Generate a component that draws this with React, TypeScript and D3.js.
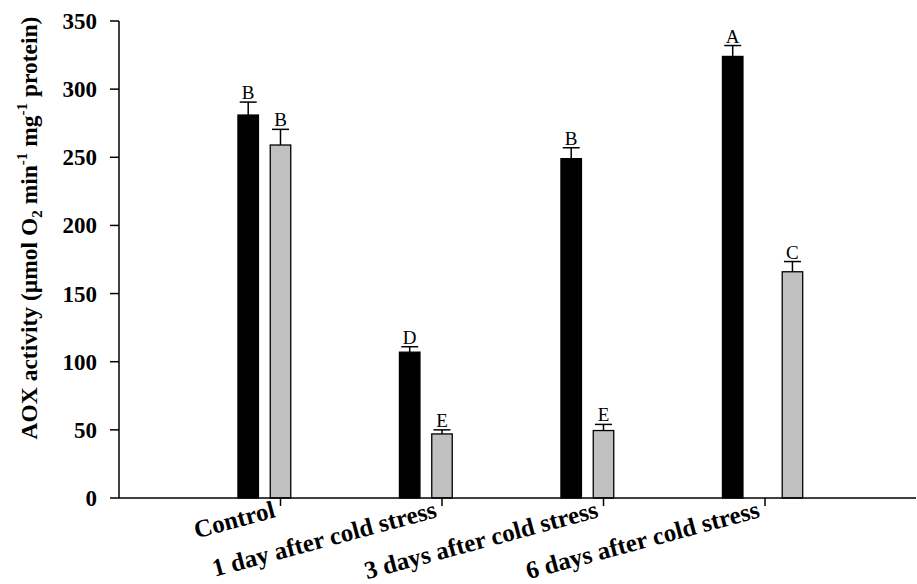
import React from "react";
import * as d3 from "d3";

const categories = [
  "Control",
  "1 day after cold stress",
  "3 days after cold stress",
  "6 days after cold stress",
];
const categoryX = [1, 2, 3, 4];
const blackX = [0.8, 1.8, 2.8, 3.8];
const blackValues = [281, 107, 249, 324];
const blackErrors = [9.5, 4, 8, 8];
const blackLetters = ["B", "D", "B", "A"];
const grayX = [1, 2, 3, 4.17];
const grayValues = [259, 47, 49.5, 166];
const grayErrors = [11.5, 3, 4.5, 7.5];
const grayLetters = ["B", "E", "E", "C"];
const yTicks = [0, 50, 100, 150, 200, 250, 300, 350];

const W = 917;
const H = 584;
const FONT = "'Liberation Serif', 'Times New Roman', serif";

export default function App() {
  const y = d3.scaleLinear().domain([0, 350]).range([498, 21]);
  const x = d3.scaleLinear().domain([0, 5]).range([119, 926.5]);
  const axisLeft = x(0);
  const axisRight = 916;
  const barW = 20.5;
  const capW = 17;

  const series = [
    { xs: blackX, values: blackValues, errs: blackErrors, letters: blackLetters, fill: "#000000" },
    { xs: grayX, values: grayValues, errs: grayErrors, letters: grayLetters, fill: "#c0c0c0" },
  ];

  return (
    <svg
      width={W}
      height={H}
      style={{ position: "absolute", left: 0, top: 0, background: "#fff" }}
      fontFamily={FONT}
    >
      <rect x={0} y={0} width={W} height={H} fill="#fff" />
      {series.map((s, si) =>
        s.values.map((v, i) => {
          const cx = x(s.xs[i]);
          const top = y(v);
          const capY = y(v + s.errs[i]);
          return (
            <g key={`${si}-${i}`}>
              <line x1={cx} x2={cx} y1={top} y2={capY} stroke="#000" strokeWidth={1.5} />
              <line x1={cx - capW / 2} x2={cx + capW / 2} y1={capY} y2={capY} stroke="#000" strokeWidth={1.5} />
              <rect
                x={cx - barW / 2}
                y={top}
                width={barW}
                height={y(0) - top}
                fill={s.fill}
                stroke="#000"
                strokeWidth={1.3}
              />
              <text x={cx} y={capY - 3} textAnchor="middle" fontSize={19} fill="#000">
                {s.letters[i]}
              </text>
            </g>
          );
        })
      )}
      {/* y axis */}
      <line x1={axisLeft} x2={axisLeft} y1={y(350)} y2={y(0)} stroke="#000" strokeWidth={1.5} />
      {yTicks.map((t) => (
        <g key={t}>
          <line x1={axisLeft - 9} x2={axisLeft} y1={y(t)} y2={y(t)} stroke="#000" strokeWidth={1.5} />
          <text
            x={97}
            y={y(t)}
            dy="0.35em"
            textAnchor="end"
            fontSize={23}
            fontWeight="bold"
            fill="#000"
          >
            {t}
          </text>
        </g>
      ))}
      {/* x axis */}
      <line x1={axisLeft} x2={axisRight} y1={y(0)} y2={y(0)} stroke="#000" strokeWidth={1.5} />
      {categories.map((c, i) => {
        const tx = x(categoryX[i]);
        return (
          <g key={c}>
            <line x1={tx} x2={tx} y1={y(0)} y2={y(0) + 8} stroke="#000" strokeWidth={1.5} />
            <text
              transform={`translate(${tx - 4},${y(0) + 19}) rotate(-15)`}
              textAnchor="end"
              fontSize={25}
              fontWeight="bold"
              fill="#000"
            >
              {c}
            </text>
          </g>
        );
      })}
      {/* y label */}
      <text
        transform={`translate(37,228) rotate(-90)`}
        textAnchor="middle"
        fontSize={23.5}
        fontWeight="bold"
        fill="#000"
      >
        <tspan>AOX activity (µmol  O</tspan>
        <tspan fontSize={15} dy={5}>2</tspan>
        <tspan dy={-5}> min</tspan>
        <tspan fontSize={15} dy={-10}>-1</tspan>
        <tspan dy={10}> mg</tspan>
        <tspan fontSize={15} dy={-10}>-1</tspan>
        <tspan dy={10}> protein)</tspan>
      </text>
    </svg>
  );
}
